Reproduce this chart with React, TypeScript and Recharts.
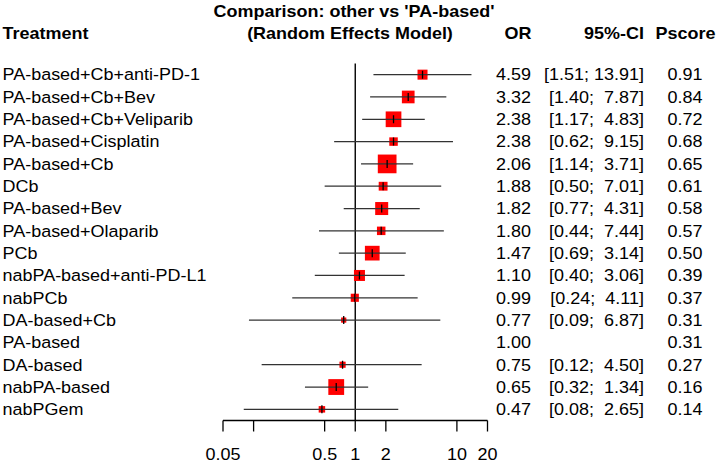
import React from "react";
import { ComposedChart, Scatter, ErrorBar, XAxis, YAxis, ZAxis, ReferenceLine } from "recharts";

const treatments = [
  "PA-based+Cb+anti-PD-1",
  "PA-based+Cb+Bev",
  "PA-based+Cb+Veliparib",
  "PA-based+Cisplatin",
  "PA-based+Cb",
  "DCb",
  "PA-based+Bev",
  "PA-based+Olaparib",
  "PCb",
  "nabPA-based+anti-PD-L1",
  "nabPCb",
  "DA-based+Cb",
  "PA-based",
  "DA-based",
  "nabPA-based",
  "nabPGem",
];
const orValues = [4.59, 3.32, 2.38, 2.38, 2.06, 1.88, 1.82, 1.8, 1.47, 1.1, 0.99, 0.77, 1.0, 0.75, 0.65, 0.47];
const ciLower = [1.51, 1.4, 1.17, 0.62, 1.14, 0.5, 0.77, 0.44, 0.69, 0.4, 0.24, 0.09, null, 0.12, 0.32, 0.08];
const ciUpper = [13.91, 7.87, 4.83, 9.15, 3.71, 7.01, 4.31, 7.44, 3.14, 3.06, 4.11, 6.87, null, 4.5, 1.34, 2.65];
const pscores = [0.91, 0.84, 0.72, 0.68, 0.65, 0.61, 0.58, 0.57, 0.5, 0.39, 0.37, 0.31, 0.31, 0.27, 0.16, 0.14];
// relative weights (square area)
const weights = [1.0, 1.61, 2.46, 0.72, 3.5, 0.78, 1.69, 0.72, 2.16, 1.21, 0.66, 0.27, 0, 0.38, 2.5, 0.42];

const xTicks = [0.05, 0.1, 0.5, 1, 2, 10, 20];
const xTickLabels = ["0.05", "", "0.5", "1", "2", "10", "20"];

const rows = treatments.map((name, i) => ({
  name,
  or: orValues[i],
  err: ciLower[i] == null ? [0, 0] : [orValues[i] - (ciLower[i] as number), (ciUpper[i] as number) - orValues[i]],
  weight: weights[i],
}));

const FONT = "'Liberation Sans', Arial, sans-serif";
const FS = 16.5;
const STRETCH = 1.09;

function T({ x, y, anchor = "start", bold = false, children }: any) {
  return (
    <text
      transform={`translate(${x},${y}) scale(${STRETCH},1)`}
      textAnchor={anchor}
      fontFamily={FONT}
      fontSize={FS}
      fontWeight={bold ? "bold" : "normal"}
      fill="#000"
      xmlSpace="preserve"
      style={{ whiteSpace: "pre" }}
    >
      {children}
    </text>
  );
}

const fmtCI = (lo: number, hi: number) =>
  `[${lo.toFixed(2)}; ${hi < 10 ? " " : ""}${hi.toFixed(2)}]`;

function RowTick(props: any) {
  const { y, payload } = props;
  const i = treatments.indexOf(payload.value);
  if (i < 0) return null;
  const by = y + 5.8;
  return (
    <g>
      <T x={2.5} y={by}>{treatments[i]}</T>
      <T x={531} y={by} anchor="end">{orValues[i].toFixed(2)}</T>
      {ciLower[i] != null && (
        <T x={644} y={by} anchor="end">{fmtCI(ciLower[i] as number, ciUpper[i] as number)}</T>
      )}
      <T x={685} y={by} anchor="middle">{pscores[i].toFixed(2)}</T>
    </g>
  );
}

function AxisTick(props: any) {
  const { x, y, payload } = props;
  const i = xTicks.indexOf(payload.value);
  const label = i >= 0 ? xTickLabels[i] : "";
  if (!label) return null;
  return <T x={x} y={y + 10.7} anchor="middle">{label}</T>;
}

function Square(props: any) {
  const { cx, cy, size, payload } = props;
  if (!payload || !payload.weight) return <g />;
  const s = 2 * Math.sqrt(Math.max(size, 0) / Math.PI);
  return (
    <g>
      <rect x={cx - s / 2} y={cy - s / 2} width={s} height={s} fill="#ff0000" />
      <line x1={cx - s / 2} x2={cx + s / 2} y1={cy} y2={cy} stroke="#333" strokeWidth={1.3} />
      <line x1={cx} x2={cx} y1={cy - 4} y2={cy + 4} stroke="#000" strokeWidth={1.3} />
    </g>
  );
}

export default function App() {
  return (
    <div style={{ position: "absolute", left: 0, top: 0, width: 717, height: 463, background: "#fff" }}>
      <ComposedChart
        width={717}
        height={463}
        data={rows}
        layout="vertical"
        margin={{ top: 63.5, right: 229.5, bottom: 0, left: 0 }}
      >
        <XAxis
          type="number"
          dataKey="or"
          scale="log"
          domain={[0.05, 20]}
          allowDataOverflow
          ticks={xTicks}
          interval={0}
          height={42.5}
          tickSize={11}
          tickMargin={18}
          tick={<AxisTick />}
          axisLine={{ stroke: "#000", strokeWidth: 1.3 }}
          tickLine={{ stroke: "#000", strokeWidth: 1.3 }}
        />
        <YAxis
          type="category"
          scale="band"
          dataKey="name"
          width={223}
          axisLine={false}
          tickLine={false}
          interval={0}
          tick={<RowTick />}
        />
        <ZAxis type="number" dataKey="weight" domain={[0, 4]} range={[0, 4 * Math.PI * 25]} />
        <ReferenceLine x={1} stroke="#000" strokeWidth={1.4} />
        <Scatter dataKey="or" shape={<Square />} isAnimationActive={false}>
          <ErrorBar dataKey="err" direction="x" width={0} stroke="#333" strokeWidth={1.3} />
        </Scatter>
      </ComposedChart>
      <svg width={717} height={63} style={{ position: "absolute", left: 0, top: 0 }}>
        <T x={354} y={16.5} anchor="middle" bold>Comparison: other vs 'PA-based'</T>
        <T x={350} y={38.5} anchor="middle" bold>(Random Effects Model)</T>
        <T x={2.5} y={38.5} bold>Treatment</T>
        <T x={531.5} y={38.5} anchor="end" bold>OR</T>
        <T x={644} y={38.5} anchor="end" bold>95%-CI</T>
        <T x={715.5} y={38.5} anchor="end" bold>Pscore</T>
      </svg>
    </div>
  );
}
